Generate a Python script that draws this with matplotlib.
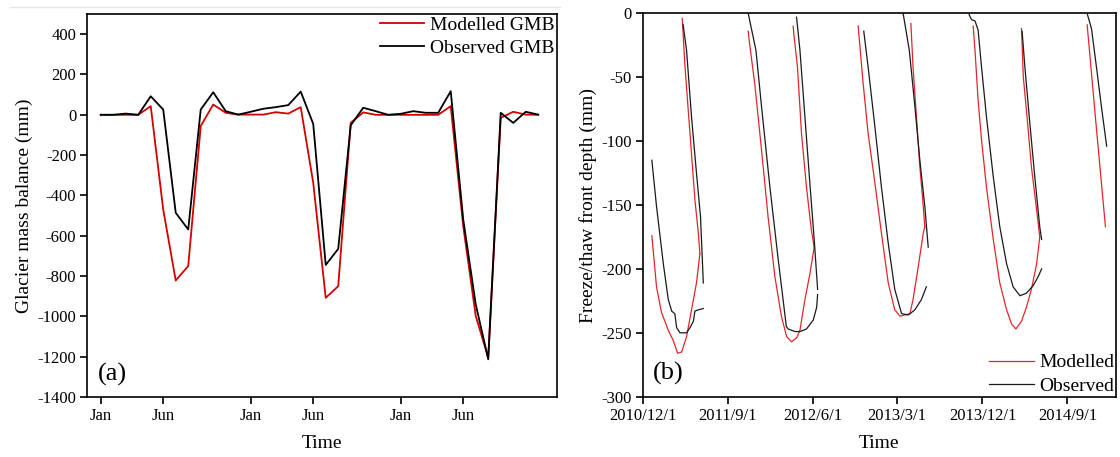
import numpy as np
import matplotlib
matplotlib.use('Agg')
import matplotlib.pyplot as plt
from matplotlib.lines import Line2D

plt.rcParams['font.family'] = ['Liberation Serif', 'DejaVu Serif']
plt.rcParams['axes.unicode_minus'] = False

# ---- panel (a): monthly glacier mass balance (mm), 36 months from a January
months = np.arange(36)
gmb_modelled = [0, 0, 0, 0, 43, -470, -822, -750, -56, 51, 10, 1,
                1, 1, 13, 6, 38, -337, -908, -850, -40, 12, 0, 0,
                0, 0, 0, 0, 43, -552, -998, -1205, -15, 15, 1, 0]
gmb_observed = [0, 0, 6, 0, 92, 26, -486, -569, 26, 112, 18, 1,
                15, 30, 38, 48, 115, -45, -745, -665, -52, 35, 18, 0,
                5, 18, 10, 10, 117, -519, -940, -1213, 10, -40, 15, 1]
a_tick_months = [0, 5, 12, 17, 24, 29]
a_tick_names = ['Jan', 'Jun', 'Jan', 'Jun', 'Jan', 'Jun']

# ---- panel (b): freeze/thaw front depth (mm), days after 2010-12-01
start_date = np.datetime64('2010-12-01')
modelled_segments = [
    ([29, 44, 60, 82, 98, 112, 125, 141, 157, 173, 184],
     [-174, -214, -234, -248, -256, -266, -265, -253, -232, -211, -188]),
    ([127, 136, 152, 168, 179, 184], [-4, -42, -94, -146, -172, -188]),
    ([340, 343, 361, 383, 404, 426, 447, 464, 480, 496, 507, 523, 539, 553],
     [-14, -21, -55, -107, -159, -206, -237, -253, -257, -254, -248, -224, -204, -183]),
    ([485, 488, 499, 512, 528, 544, 553], [-10, -18, -42, -94, -136, -170, -183]),
    ([695, 697, 711, 727, 749, 770, 792, 813, 830, 846, 862, 872, 889, 905, 910],
     [-10, -16, -55, -94, -133, -172, -211, -232, -237, -236, -235, -224, -198, -172, -167]),
    ([865, 872, 883, 894, 905, 910], [-8, -42, -81, -120, -151, -167]),
    ([1066, 1072, 1082, 1093, 1109, 1131, 1152, 1174, 1190, 1204, 1222, 1238, 1254, 1271, 1281],
     [-10, -29, -68, -99, -136, -177, -211, -232, -243, -247, -241, -230, -216, -196, -175]),
    ([1222, 1228, 1240, 1254, 1271, 1281], [-12, -50, -81, -120, -154, -175]),
    ([1434, 1462, 1493], [-9, -85, -167]),
]
observed_segments = [
    ([29, 44, 66, 82, 93, 103, 109, 120, 141, 152, 163, 168, 179, 195],
     [-115, -151, -196, -224, -233, -235, -246, -250, -250, -246, -241, -233, -232, -231]),
    ([130, 141, 157, 173, 186, 195], [-9, -29, -81, -125, -159, -211]),
    ([340, 365, 383, 410, 437, 463, 469, 491, 507, 528, 550, 561, 564],
     [0, -29, -73, -136, -193, -245, -247, -249, -249, -247, -240, -230, -220]),
    ([496, 507, 523, 539, 553, 564], [-3, -29, -81, -133, -177, -216]),
    ([713, 727, 749, 770, 792, 813, 835, 857, 878, 899, 915],
     [-14, -42, -89, -136, -180, -216, -235, -236, -232, -224, -214]),
    ([840, 860, 878, 894, 910, 921], [0, -29, -73, -115, -151, -183]),
    ([1053, 1061, 1072, 1082, 1093, 1109, 1131, 1152, 1174, 1195, 1217, 1238, 1260, 1276, 1287],
     [-1, -5, -6, -13, -42, -81, -128, -167, -196, -214, -221, -219, -213, -206, -200]),
    ([1224, 1233, 1249, 1265, 1281, 1287], [-14, -42, -86, -128, -167, -177]),
    ([1435, 1448, 1464, 1480, 1497], [-1, -12, -42, -73, -104]),
]
b_tick_dates = ['2010-12-01', '2011-09-01', '2012-06-01', '2013-03-01', '2013-12-01', '2014-09-01']
b_tick_names = ['2010/12/1', '2011/9/1', '2012/6/1', '2013/3/1', '2013/12/1', '2014/9/1']


def style_axes(ax):
    for sp in ax.spines.values():
        sp.set_linewidth(1.2)
    ax.tick_params(direction='out', length=5, width=1.2, labelsize=12, pad=3)


fig = plt.figure(figsize=(11.2, 4.57), dpi=100)
ax1 = fig.add_axes([0.0781, 0.1313, 0.4192, 0.838])
ax2 = fig.add_axes([0.5740, 0.1319, 0.4224, 0.839])

# faint border line at the very top of the left half
fig.add_artist(Line2D([10 / 1120, 560 / 1120], [1 - 7 / 457, 1 - 7 / 457],
                      color='#e6e6e6', lw=1))

# ---- (a)
ax1.plot(months, gmb_modelled, color='#d40000', lw=1.3, label='Modelled GMB')
ax1.plot(months, gmb_observed, color='black', lw=1.3, label='Observed GMB')
ax1.set_xlim(-1.06, 36.5)
ax1.set_ylim(-1400, 500)
ax1.set_yticks(np.arange(-1400, 401, 200))
ax1.set_xticks(a_tick_months)
ax1.set_xticklabels(a_tick_names)
style_axes(ax1)
ax1.set_xlabel('Time', fontsize=14, labelpad=8)
ax1.set_ylabel('Glacier mass balance (mm)', fontsize=14, labelpad=3)
ax1.legend(loc='upper right', frameon=False, fontsize=14, handlelength=2.25,
           handletextpad=0.35, labelspacing=0.3, borderaxespad=0, borderpad=0.1)
ax1.text(0.023, 0.06, '(a)', transform=ax1.transAxes, fontsize=19, va='center')

# ---- (b)
for i, (d, v) in enumerate(modelled_segments):
    ax2.plot(start_date + np.array(d).astype('timedelta64[D]'), v, color='#e3262b',
             lw=0.9, label='Modelled' if i == 0 else None)
for i, (d, v) in enumerate(observed_segments):
    ax2.plot(start_date + np.array(d).astype('timedelta64[D]'), v, color='#1a1a1a',
             lw=0.9, label='Observed' if i == 0 else None)
ax2.set_xlim(start_date, np.datetime64('2015-02-05'))
ax2.set_ylim(-300, 0)
ax2.set_yticks(np.arange(-300, 1, 50))
ax2.set_xticks(np.array(b_tick_dates, dtype='datetime64[D]'))
ax2.set_xticklabels(b_tick_names)
style_axes(ax2)
ax2.set_xlabel('Time', fontsize=14, labelpad=8)
ax2.set_ylabel('Freeze/thaw front depth (mm)', fontsize=14, labelpad=3)
ax2.legend(loc='lower right', frameon=False, fontsize=14, handlelength=2.3,
           handletextpad=0.25, labelspacing=0.3, borderaxespad=0, borderpad=0.1)
ax2.text(0.022, 0.06, '(b)', transform=ax2.transAxes, fontsize=19, va='center')

fig.savefig('out.png', dpi=100)
